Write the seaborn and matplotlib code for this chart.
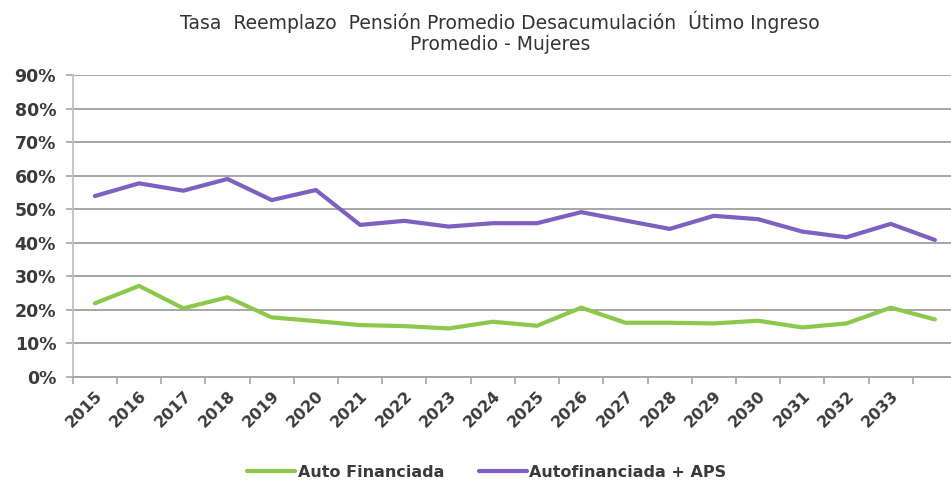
import matplotlib
matplotlib.use("Agg")
import matplotlib.pyplot as plt
from matplotlib.ticker import FixedLocator, PercentFormatter
import seaborn as sns
import pandas as pd
import numpy as np

tick_labels = ["2015", "2016", "2017", "2018", "2019", "2020", "2021", "2022", "2023", "2024",
               "2025", "2026", "2027", "2028", "2029", "2030", "2031", "2032", "2033", ""]
auto_financiada = [21.9, 27.1, 20.4, 23.7, 17.7, 16.6, 15.4, 15.1, 14.4, 16.4,
                   15.2, 20.6, 16.1, 16.1, 15.9, 16.7, 14.7, 15.9, 20.6, 17.1]
auto_aps = [53.9, 57.7, 55.5, 59.0, 52.7, 55.7, 45.3, 46.5, 44.8, 45.8,
            45.8, 49.1, 46.6, 44.1, 48.0, 47.0, 43.3, 41.6, 45.6, 40.8]
series_names = ["Auto Financiada", "Autofinanciada + APS"]
colors = ["#8cc84b", "#7e5fc2"]

n = len(tick_labels)
df = pd.DataFrame({
    "idx": list(range(n)) * 2,
    "valor": auto_financiada + auto_aps,
    "serie": [series_names[0]] * n + [series_names[1]] * n,
})

sns.set_theme(style="white")
plt.rcParams['font.family'] = ['DejaVu Sans']

fig = plt.figure(figsize=(9.51, 4.90), dpi=100)
ax = fig.add_axes([0.0765, 0.2312, 1.0 - 0.0765, 0.6156])

sns.lineplot(data=df, x="idx", y="valor", hue="serie", palette=colors,
             linewidth=3.0, ax=ax, legend=True)

ax.set_ylim(0, 90)
ax.set_yticks(np.arange(0, 91, 10))
ax.yaxis.set_major_formatter(PercentFormatter(decimals=0))
ax.grid(axis="y", color="#a6a6a6", linewidth=1.4)
ax.set_axisbelow(True)

ax.set_xlim(-0.5, -0.5 + 878 / 44.2)
ax.set_xticks(range(n))
ax.set_xticklabels(tick_labels, rotation=45, ha="right", rotation_mode="anchor",
                   fontsize=11.5, fontweight="bold", color="#3a3a3a")
ax.xaxis.set_minor_locator(FixedLocator(np.arange(-0.5, n, 1.0)))
ax.tick_params(axis="x", which="major", length=0, pad=8)
ax.tick_params(axis="x", which="minor", length=5, color="#a6a6a6", width=1.2, bottom=True)
ax.tick_params(axis="y", length=5, color="#a6a6a6", width=1.2, left=True, pad=7,
               labelsize=12.5, labelcolor="#3a3a3a")
for lab in ax.get_yticklabels():
    lab.set_fontweight("bold")

for s in ["top", "right"]:
    ax.spines[s].set_visible(False)
ax.spines["left"].set_color("#bfbfbf")
ax.spines["bottom"].set_color("#a6a6a6")
ax.spines["bottom"].set_linewidth(1.4)
ax.set_xlabel("")
ax.set_ylabel("")

handles, labels = ax.get_legend_handles_labels()
leg = ax.legend(handles, labels, loc="center", bbox_to_anchor=(0.512, 0.036),
                bbox_transform=fig.transFigure, ncol=2, frameon=False,
                prop={"size": 11.5, "weight": "bold"}, handlelength=3.0,
                columnspacing=2.2, handletextpad=0.15)
for t in leg.get_texts():
    t.set_color("#3a3a3a")

fig.text(0.526, 0.934, "Tasa  Reemplazo  Pensión Promedio Desacumulación  Útimo Ingreso\nPromedio - Mujeres",
         ha="center", va="center", fontsize=13.5, color="#333333", linespacing=1.15)

fig.savefig("out.png", dpi=100)
